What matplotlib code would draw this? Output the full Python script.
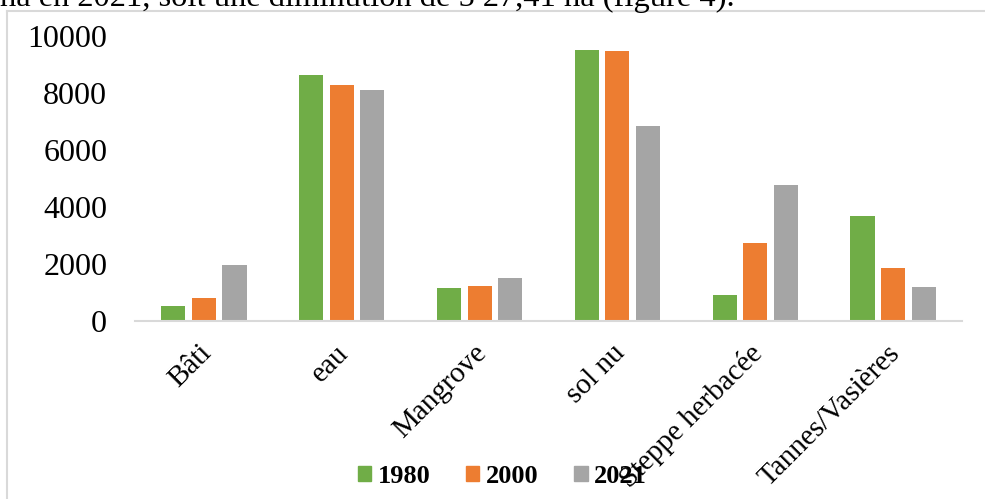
import numpy as np
import matplotlib
matplotlib.use("Agg")
from matplotlib import pyplot as plt
from matplotlib.lines import Line2D
from matplotlib.patches import Patch
import matplotlib.transforms as mtransforms

categories = ["Bâti", "eau", "Mangrove", "sol nu", "Steppe herbacée", "Tannes/Vasières"]
years = ["1980", "2000", "2021"]
v1980 = [510, 8630, 1130, 9525, 890, 3670]
v2000 = [800, 8280, 1200, 9490, 2730, 1840]
v2021 = [1955, 8105, 1495, 6850, 4770, 1170]
colors = ["#70AD47", "#ED7D31", "#A5A5A5"]

plt.rcParams['font.family'] = ['Liberation Serif', 'DejaVu Serif']

fig = plt.figure(figsize=(9.85, 4.99), dpi=100)
ax = fig.add_axes([135 / 985, 178.5 / 499, (962 - 135) / 985, 284 / 499])

x = np.arange(len(categories))
width = 0.175
step = 0.222
for i, vals in enumerate([v1980, v2000, v2021]):
    ax.bar(x + (i - 1) * step, vals, width, color=colors[i], zorder=2)

ax.set_xlim(-0.5, len(categories) - 0.5)
ax.set_ylim(0, 10000)
ax.set_yticks(np.arange(0, 10001, 2000))
ax.tick_params(axis='y', length=0, pad=20, labelsize=23)
ax.tick_params(axis='x', length=0, pad=14)
ax.set_xticks(x)
ax.set_xticklabels(categories, fontsize=21, rotation=45, ha='right',
                   rotation_mode='anchor')
offset = mtransforms.ScaledTranslation(-6 / 100, 0, fig.dpi_scale_trans)
for lab in ax.get_xticklabels():
    lab.set_transform(lab.get_transform() + offset)

for s in ['top', 'right', 'left']:
    ax.spines[s].set_visible(False)
ax.spines['bottom'].set_color('#D9D9D9')
ax.spines['bottom'].set_linewidth(1.5)

handles = [Patch(color=c) for c in colors]
fig.legend(handles, years, loc='center', bbox_to_anchor=(0.51, 0.046),
           ncol=3, frameon=False, handlelength=0.5, handleheight=0.5,
           handletextpad=0.25, columnspacing=1.36,
           prop={'weight': 'bold', 'size': 19})

# cadre du graphique (gauche et haut seulement)
fig.add_artist(Line2D([7 / 985, 7 / 985], [0, 1 - 11 / 499], color='#D9D9D9', lw=1.5))
fig.add_artist(Line2D([7 / 985, 1], [1 - 11 / 499, 1 - 11 / 499], color='#D9D9D9', lw=1.5))

# ligne de texte du document, coupée en haut comme sur l'original
fig.text(0, 1 - 6 / 499, "ha en 2021, soit une diminution de 5 27,41 ha (figure 4).",
         fontsize=23.4, va='baseline', ha='left')

fig.savefig("out.png", dpi=100)
